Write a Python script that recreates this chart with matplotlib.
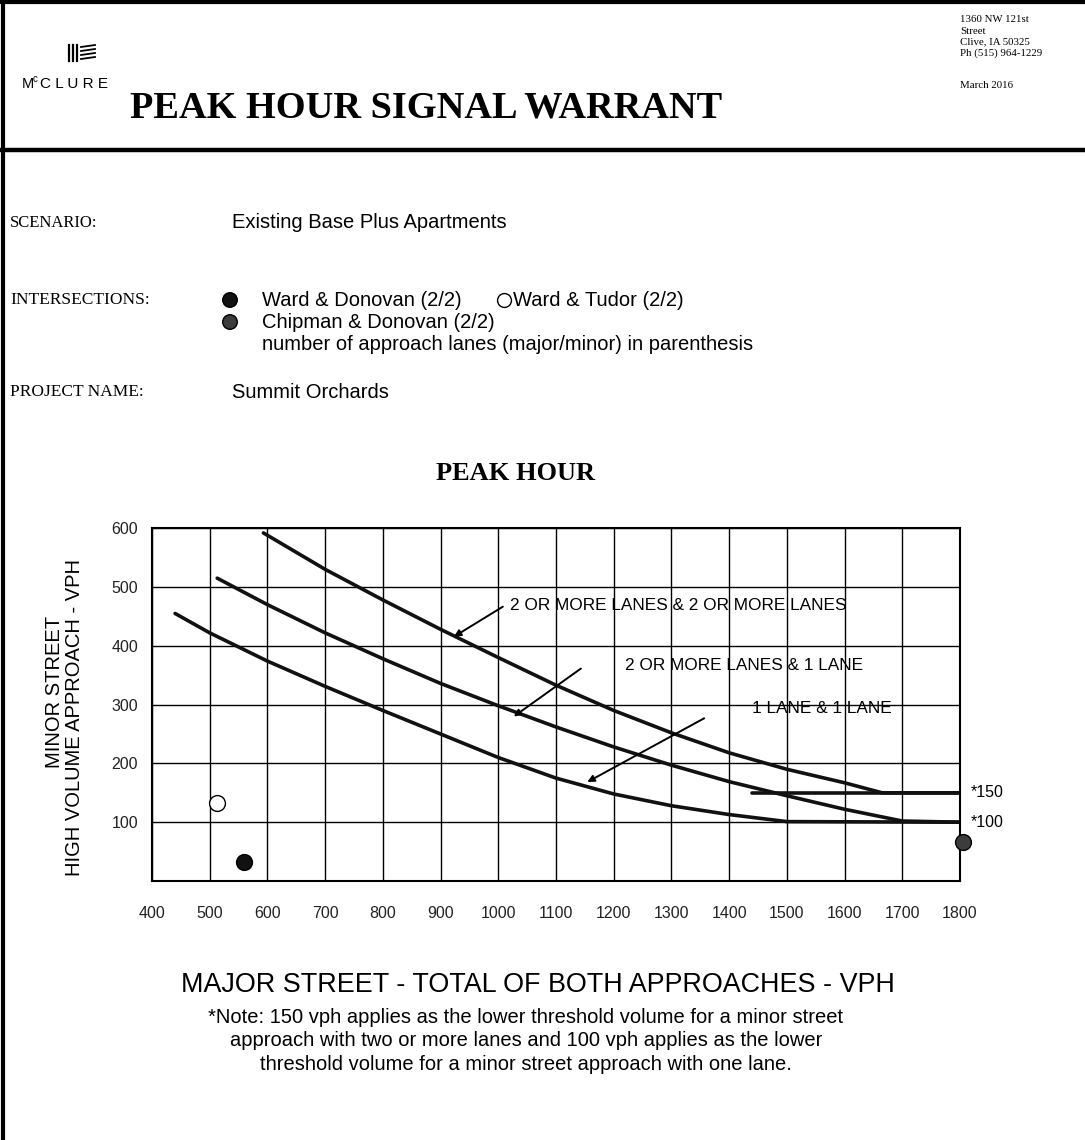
import matplotlib
matplotlib.use("Agg")
import matplotlib.pyplot as plt

# warrant curves (major street vph, minor street vph)
curve_22_x = [593, 700, 800, 900, 1000, 1100, 1200, 1300, 1400, 1500, 1600, 1665, 1800]
curve_22_y = [592, 530, 478, 428, 380, 333, 290, 252, 218, 190, 167, 150, 150]

curve_21_x = [513, 600, 700, 800, 900, 1000, 1100, 1200, 1300, 1400, 1500, 1600, 1700, 1800]
curve_21_y = [515, 470, 422, 378, 336, 298, 262, 228, 197, 169, 145, 122, 102, 100]

curve_11_x = [440, 500, 600, 700, 800, 900, 1000, 1100, 1200, 1300, 1400, 1500, 1800]
curve_11_y = [455, 422, 374, 331, 290, 250, 210, 175, 148, 128, 113, 101, 100]

floor_150_x = [1440, 1800]
floor_150_y = [150, 150]

# intersections
intersections = ["Ward & Donovan (2/2)", "Ward & Tudor (2/2)", "Chipman & Donovan (2/2)"]
major_vph = [560, 513, 1805]
minor_vph = [32, 132, 67]
face_colors = ["#111111", "white", "#3c3c3c"]

x_ticks = list(range(400, 1900, 100))
y_ticks = [100, 200, 300, 400, 500, 600]

SANS = "Liberation Sans"
SERIF = "Liberation Serif"
W, H = 1085, 1140

fig = plt.figure(figsize=(W / 100, H / 100), dpi=100)

# page layer in pixel coordinates
page = fig.add_axes([0, 0, 1, 1])
page.set_xlim(0, W)
page.set_ylim(H, 0)
page.axis("off")

# borders
page.plot([2.5, 2.5], [0, H], color="black", lw=3)
page.plot([0, W], [2, 2], color="black", lw=3)
page.plot([0, W], [150, 150], color="black", lw=3.2)

# logo
for bx in [69, 73, 77]:
    page.plot([bx, bx], [45, 61], color="black", lw=1.6)
for by in [46, 50, 54, 58]:
    page.plot([81, 95], [by + 1, by - 1], color="black", lw=1.3)
page.text(22, 84, "M", fontsize=10.5, family=SANS, va="center", ha="left")
page.text(33, 79, "c", fontsize=7, family=SANS, va="center", ha="left")
page.text(40, 84, "C L U R E", fontsize=11, family=SANS, va="center", ha="left")

# header
page.text(130, 108, "PEAK HOUR SIGNAL WARRANT", fontsize=27.6, family=SERIF,
          weight="bold", va="center", ha="left")
addr = ["1360 NW 121st", "Street", "Clive, IA 50325", "Ph (515) 964-1229"]
for i, line in enumerate(addr):
    page.text(960, 20 + i * 11, line, fontsize=7.8, family=SERIF, va="center")
page.text(960, 85, "March 2016", fontsize=7.8, family=SERIF, va="center")

# scenario block
page.text(10, 223, "SCENARIO:", fontsize=12, family=SERIF, va="center")
page.text(232, 223, "Existing Base Plus Apartments", fontsize=14.5, family=SANS, va="center")
page.text(10, 300, "INTERSECTIONS:", fontsize=12.5, family=SERIF, va="center")
page.scatter([230, 230], [300, 322], s=110, c=[face_colors[0], face_colors[2]],
             edgecolors="black", linewidths=1, zorder=3)
page.scatter([504], [300], s=100, c="white", edgecolors="black", linewidths=1, zorder=3)
page.text(262, 300, intersections[0], fontsize=14.5, family=SANS, va="center")
page.text(513, 300, intersections[1], fontsize=14.5, family=SANS, va="center")
page.text(262, 322, intersections[2], fontsize=14.5, family=SANS, va="center")
page.text(262, 345, "number of approach lanes (major/minor) in parenthesis",
          fontsize=14.5, family=SANS, va="center")
page.text(10, 392, "PROJECT NAME:", fontsize=12.5, family=SERIF, va="center")
page.text(232, 392, "Summit Orchards", fontsize=14.5, family=SANS, va="center")

page.text(515, 473, "PEAK HOUR", fontsize=19, family=SERIF, weight="bold",
          va="center", ha="center")

page.text(538, 985, "MAJOR STREET - TOTAL OF BOTH APPROACHES - VPH", fontsize=19.4,
          family=SANS, va="center", ha="center")
note = ("*Note: 150 vph applies as the lower threshold volume for a minor street\n"
        "approach with two or more lanes and 100 vph applies as the lower\n"
        "threshold volume for a minor street approach with one lane.")
page.text(526, 1041, note, fontsize=14.5, family=SANS, va="center", ha="center",
          linespacing=1.3)
page.text(55, 692, "MINOR STREET", fontsize=14.5, family=SANS, rotation=90,
          va="center", ha="center")
page.text(75, 718, "HIGH VOLUME APPROACH - VPH", fontsize=14.5, family=SANS,
          rotation=90, va="center", ha="center")

# chart
ax = fig.add_axes([152 / W, (H - 881) / H, 808 / W, 352.8 / H])
ax.set_xlim(400, 1800)
ax.set_ylim(0, 600)
ax.set_xticks(x_ticks)
ax.set_yticks(y_ticks)
ax.set_xticklabels([str(v) for v in x_ticks], fontsize=11.5, family=SANS, color="#222222")
ax.set_yticklabels([str(v) for v in y_ticks], fontsize=11.5, family=SANS, color="#222222")
ax.tick_params(length=0)
ax.tick_params(axis="x", pad=18)
ax.tick_params(axis="y", pad=10)
ax.grid(True, color="black", lw=1)
ax.set_axisbelow(True)
for s in ax.spines.values():
    s.set_linewidth(1.5)

line_kw = dict(color="#111111", lw=2.6, solid_capstyle="round", solid_joinstyle="round")
ax.plot(curve_22_x, curve_22_y, **line_kw)
ax.plot(curve_21_x, curve_21_y, **line_kw)
ax.plot(curve_11_x, curve_11_y, **line_kw)
ax.plot(floor_150_x, floor_150_y, **line_kw)

arrow_kw = dict(arrowstyle="-|>", color="black", lw=1.4, mutation_scale=10)
ax.annotate("", xy=(919, 413), xytext=(1012, 469), arrowprops=arrow_kw)
ax.annotate("", xy=(1023, 277), xytext=(1147, 364), arrowprops=arrow_kw)
ax.annotate("", xy=(1150, 166), xytext=(1361, 279), arrowprops=arrow_kw)
ax.text(1020, 469, "2 OR MORE LANES & 2 OR MORE LANES", fontsize=12.4, family=SANS,
        va="center", ha="left")
ax.text(1220, 367, "2 OR MORE LANES & 1 LANE", fontsize=12.4, family=SANS,
        va="center", ha="left")
ax.text(1440, 294, "1 LANE & 1 LANE", fontsize=12.4, family=SANS, va="center", ha="left")
ax.text(1818, 150, "*150", fontsize=11.5, family=SANS, va="center", ha="left")
ax.text(1818, 100, "*100", fontsize=11.5, family=SANS, va="center", ha="left")

for x, y, fc in zip(major_vph, minor_vph, face_colors):
    ax.scatter([x], [y], s=130, c=fc, edgecolors="black", linewidths=1,
               zorder=5, clip_on=False)

fig.savefig("out.png", dpi=100, facecolor="white")
